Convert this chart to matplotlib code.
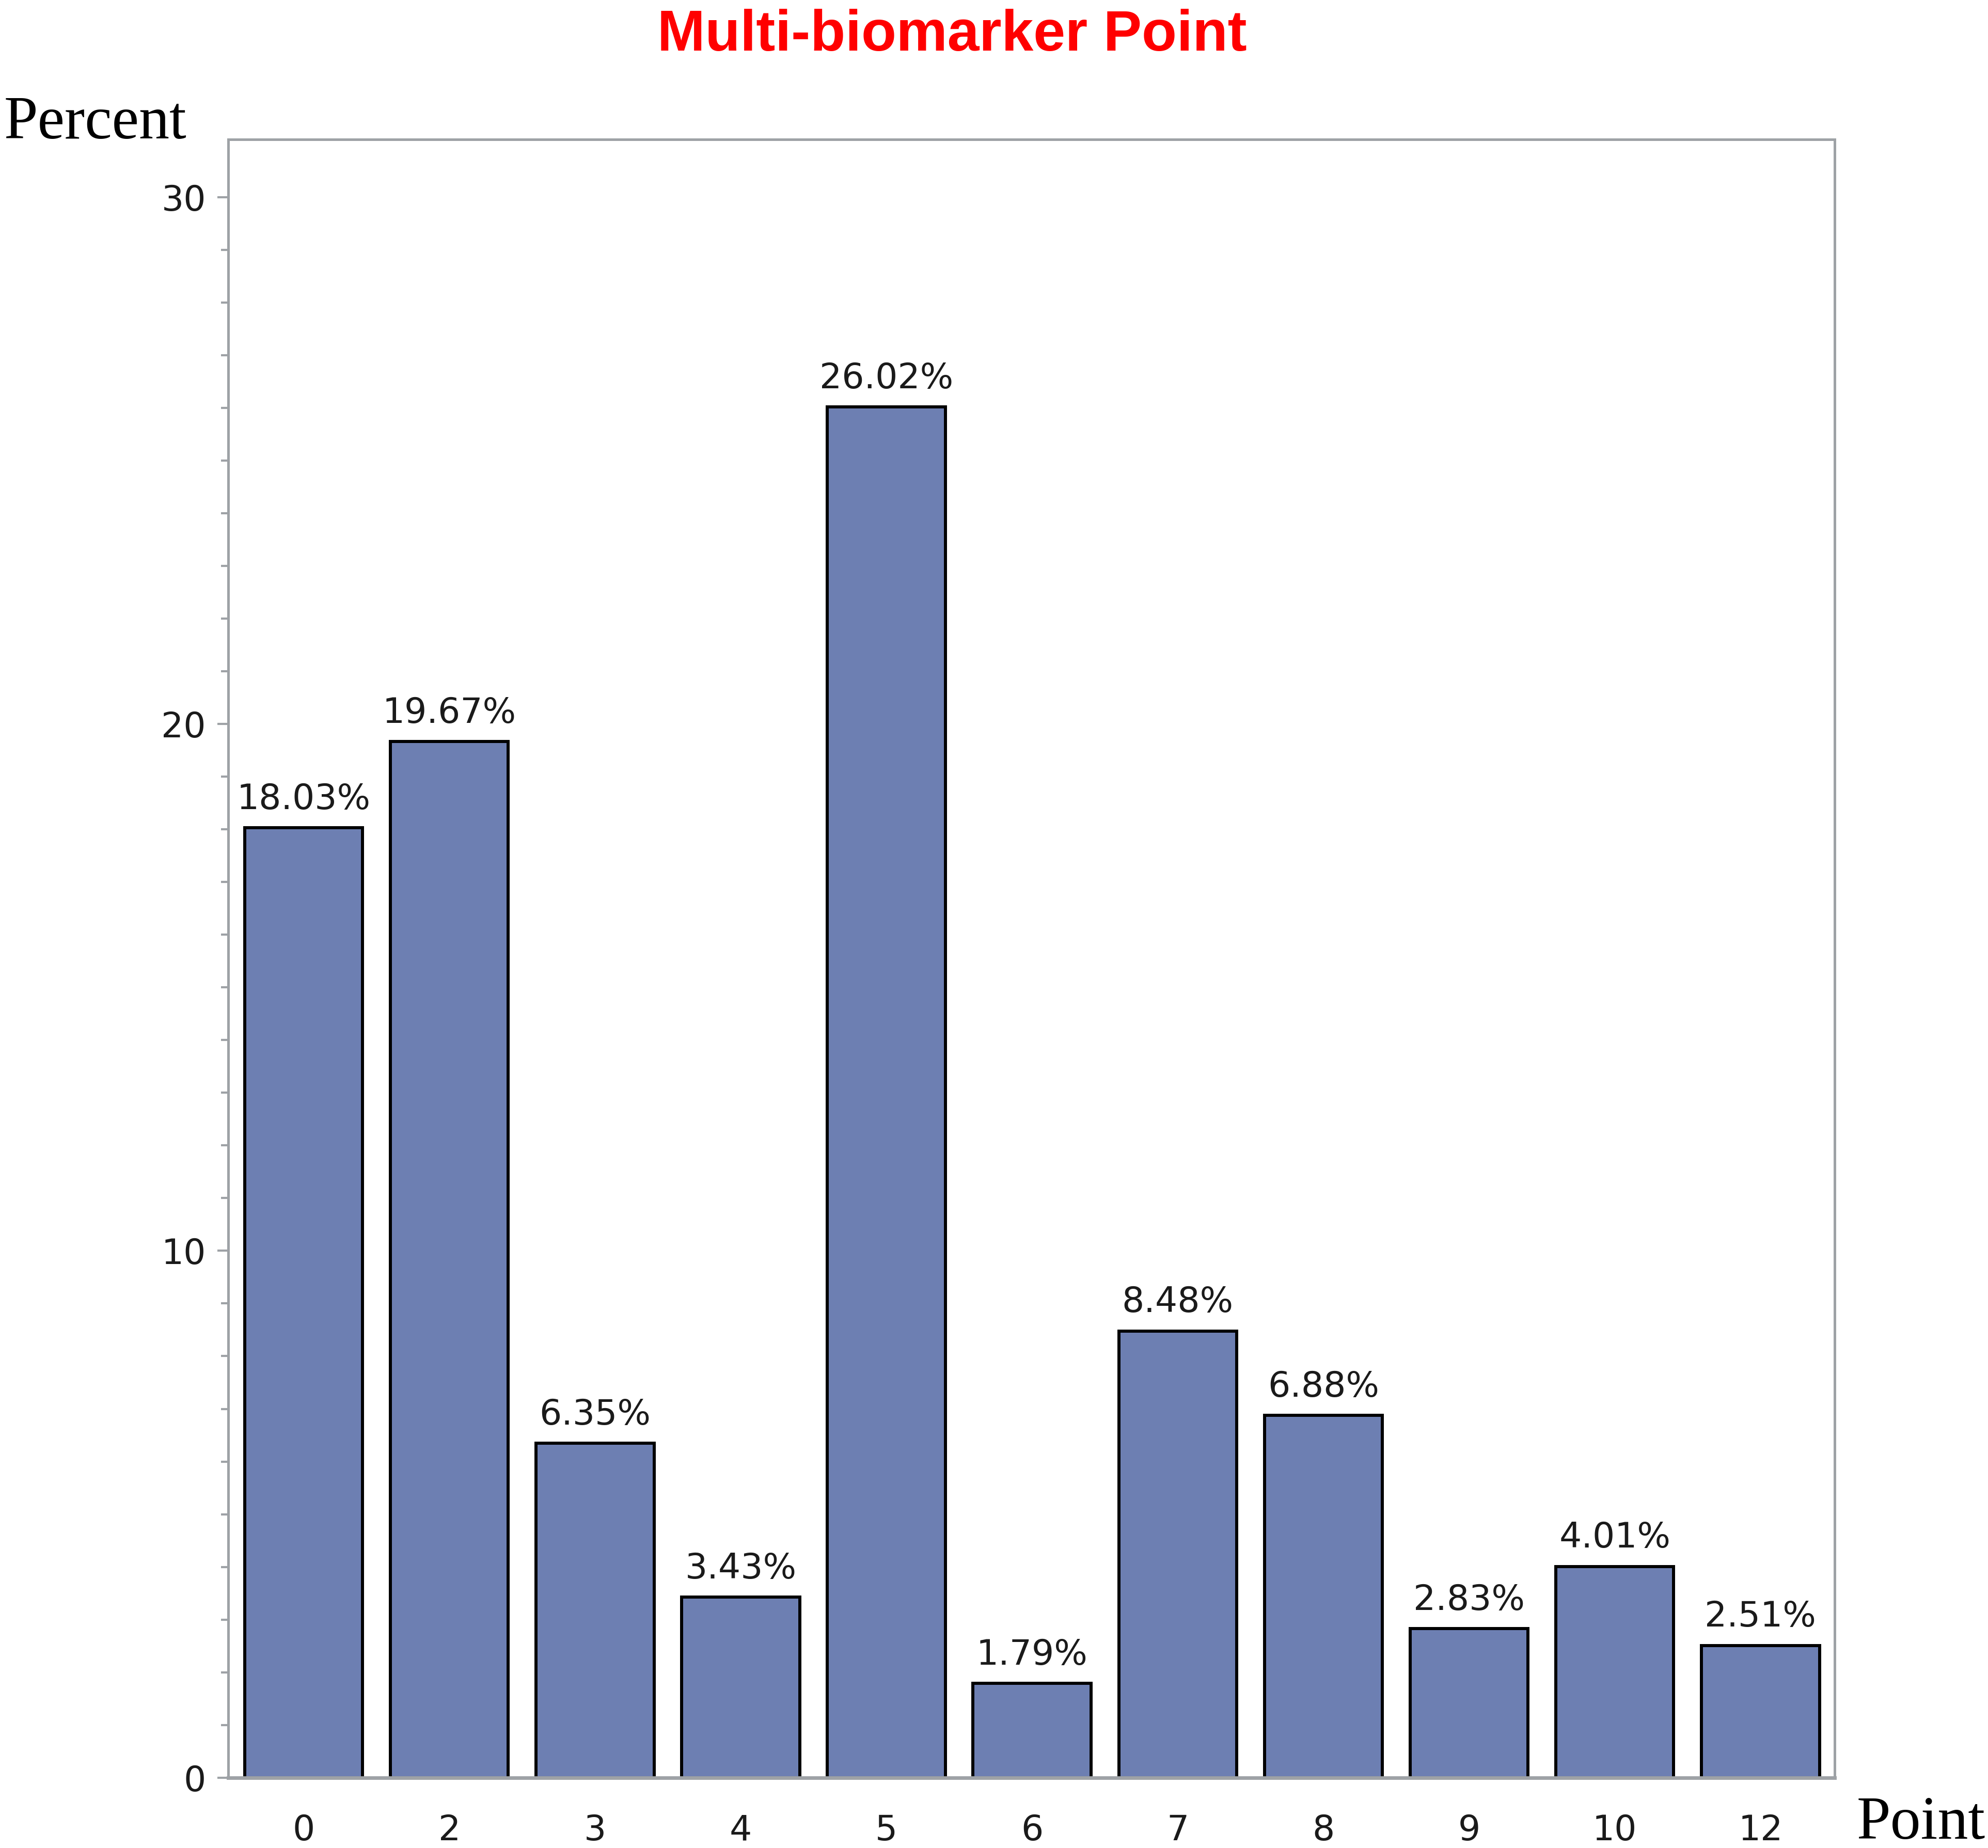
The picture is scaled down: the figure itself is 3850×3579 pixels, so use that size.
import matplotlib
matplotlib.use("Agg")
import matplotlib.pyplot as plt
from matplotlib.ticker import FixedLocator

# Distribution of the multi-biomarker point score
points = ["0", "2", "3", "4", "5", "6", "7", "8", "9", "10", "12"]
percents = [18.03, 19.67, 6.35, 3.43, 26.02, 1.79, 8.48, 6.88, 2.83, 4.01, 2.51]
y_ticks = [0, 10, 20, 30]

bar_color = "#6d7fb2"
frame_gray = "#9ea2a6"

fig = plt.figure(figsize=(38.5, 35.79), dpi=100)
ax = fig.add_axes([0.1148, 0.0381, 0.9229 - 0.1148, 0.9246 - 0.0381])

xpos = list(range(len(points)))
ax.bar(xpos, percents, width=0.81, color=bar_color, edgecolor="black",
       linewidth=4.3, zorder=2)

for x, v in zip(xpos, percents):
    ax.annotate(f"{v:.2f}%", (x, v), xytext=(0, 26), textcoords="offset points",
                ha="center", va="baseline", fontsize=49, family="DejaVu Sans",
                color="#1a1a1a")

ax.set_xlim(-0.518, 10.51)
ax.set_ylim(0, 31.1)
ax.set_xticks(xpos)
ax.set_xticklabels(points)
ax.set_yticks(y_ticks)
ax.set_yticklabels([str(t) for t in y_ticks])
ax.yaxis.set_minor_locator(FixedLocator(list(range(0, 31))))

for side in ["left", "right", "top", "bottom"]:
    ax.spines[side].set_color(frame_gray)
    ax.spines[side].set_linewidth(3.6)
ax.spines["bottom"].set_linewidth(5)
ax.spines["bottom"].set_zorder(3)

ax.tick_params(axis="y", which="major", length=15, width=3, color=frame_gray,
               pad=16, labelsize=49, labelcolor="#1a1a1a")
ax.tick_params(axis="y", which="minor", length=10, width=3, color=frame_gray)
ax.tick_params(axis="x", which="both", length=0, pad=50, labelsize=49,
               labelcolor="#1a1a1a")

fig.text(0.479, 0.9726, "Multi-biomarker Point", color="red", fontsize=80,
         fontweight="bold", family="Liberation Sans", ha="center", va="baseline")
fig.text(0.002, 0.925, "Percent", family="Liberation Serif", fontsize=85,
         ha="left", va="baseline")
fig.text(0.934, 0.005, "Point", family="Liberation Serif", fontsize=85,
         ha="left", va="baseline")

fig.savefig("out.png", dpi=100, facecolor="white")
